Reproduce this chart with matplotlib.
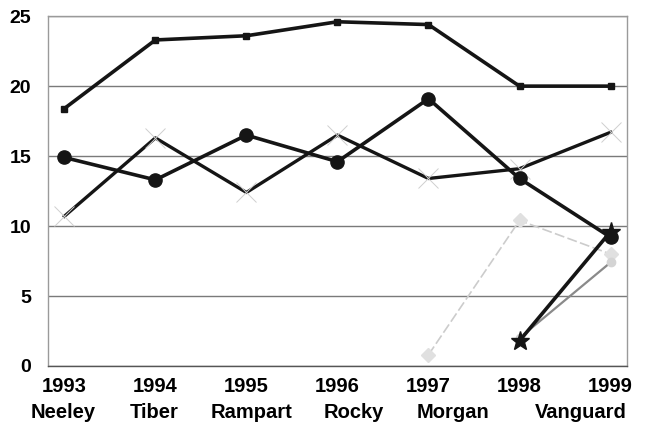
import matplotlib
matplotlib.use("Agg")
from matplotlib import pyplot as plt
import numpy as np

# data
years = [1993, 1994, 1995, 1996, 1997, 1998, 1999]
names = ["Neeley", "Tiber", "Rampart", "Rocky", "Morgan", "Vanguard"]
name_x = [63, 154, 251, 354, 453, 581]  # word centres, pixels

neeley = [18.4, 23.3, 23.6, 24.6, 24.4, 20.0, 20.0]
tiber = [14.9, 13.3, 16.5, 14.6, 19.1, 13.4, 9.2]
rampart = [10.7, 16.3, 12.4, 16.5, 13.4, 14.1, 16.7]
rocky_years = [1997, 1998, 1999]
rocky = [0.8, 10.4, 8.0]
morgan_years = [1998, 1999]
morgan = [2.0, 7.4]
vanguard_years = [1998, 1999]
vanguard = [1.8, 9.6]

plt.rcParams['font.family'] = ['Liberation Sans', 'DejaVu Sans']

fig = plt.figure(figsize=(6.51, 4.37), dpi=100)
ax = fig.add_axes([0.0737, 0.1625, 0.8893, 0.8005])

# grid
ax.set_ylim(0, 25)
ax.set_xlim(1992.82, 1999.18)
ax.set_yticks([0, 5, 10, 15, 20, 25])
ax.set_xticks(years)
ax.yaxis.grid(True, color="#7a7a7a", lw=1.0)
ax.set_axisbelow(True)
for s in ax.spines.values():
    s.set_color("#9a9a9a")
    s.set_linewidth(1.0)
ax.spines["bottom"].set_color("#555555")
ax.tick_params(length=0)
ax.tick_params(axis="y", pad=12, labelsize=14)
ax.tick_params(axis="x", pad=8, labelsize=14.5)
for lab in ax.get_xticklabels() + ax.get_yticklabels():
    lab.set_fontweight("bold")

# series
ax.plot(years, rampart, color="#151515", lw=2.4, marker="x", ms=14,
        mec="#cfcfcf", mew=0.7, zorder=3)
ax.plot(rocky_years, rocky, color="#cccccc", lw=1.2, ls=(0, (6, 2)),
        marker="D", ms=7, mfc="#e0e0e0", mec="#e0e0e0", zorder=2)
ax.plot(morgan_years, morgan, color="#8a8a8a", lw=1.6,
        marker="o", ms=6, mfc="#d4d4d4", mec="#d4d4d4", zorder=2)
ax.plot(vanguard_years, vanguard, color="#151515", lw=2.6,
        marker="*", ms=14, zorder=4)
ax.plot(years, tiber, color="#151515", lw=2.6, marker="o", ms=9.5, zorder=4)
ax.plot(years, neeley, color="#151515", lw=2.6, marker="s", ms=4.5, zorder=4)

for nm, px in zip(names, name_x):
    fig.text(px / 651, 1 - 413 / 437, nm, ha="center", va="center",
             fontsize=14.5, fontweight="bold")

fig.savefig("out.png", dpi=100)
